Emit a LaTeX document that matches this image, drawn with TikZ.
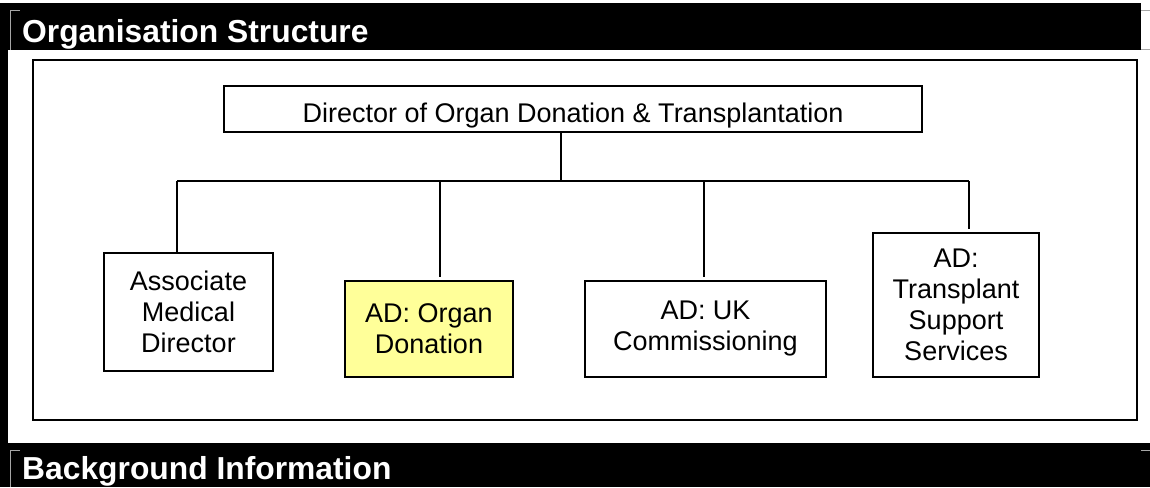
\documentclass[tikz,border=0pt]{standalone}
\usepackage{fontspec}
\setmainfont{Liberation Sans}
\begin{document}
\begin{tikzpicture}[x=1pt,y=-1pt,
  bar/.style={fill=black,draw=none},
  title/.style={text=white,font=\bfseries\fontsize{31.8}{36}\selectfont,anchor=base west,inner sep=0pt},
  box/.style={draw=black,line width=1.6pt,fill=white,inner sep=0pt,align=center,
    font=\fontsize{27}{31}\selectfont},
  link/.style={line width=1.4pt,draw=black},
  frame/.style={draw=black,line width=1.6pt},
  thin/.style={draw=gray!70,line width=0.8pt}]
\useasboundingbox (0,0) rectangle (1150,487);
\fill[white] (0,0) rectangle (1150,487);
% black bars
\fill[bar] (0,3) rectangle (1141,50);
\fill[bar] (0,3) rectangle (8,487);
\fill[bar] (0,443) rectangle (1150,487);
\draw[thin] (20,10) -- (10,10) -- (10,50);
\draw[thin] (1141,10) -- (1150,10);
\draw[thin] (1141,49) -- (1150,49);
\draw[thin] (20,450) -- (10,450) -- (10,487);
\draw[thin] (1141,450) -- (1150,450);
\node[title] (t1) at (22,42) {Organisation Structure};
\node[title] (t2) at (22,479) {Background Information};
% frame
\draw[frame] (33,60) rectangle (1137,420);
% director
\node[box,minimum width=698,minimum height=46,text height=26pt,text depth=0pt] (dir) at (573,109)
  {Director of Organ Donation \& Transplantation};
% children
\node[box,minimum width=169,minimum height=118] (amd) at (188.5,312) {Associate\\Medical\\Director};
\node[box,minimum width=168,minimum height=96,fill={rgb,255:red,255;green,255;blue,153}] (org) at (429,329) {AD: Organ\\Donation};
\node[box,minimum width=241,minimum height=96] (ukc) at (705.5,329) {AD: UK\\Commissioning};
\node[box,minimum width=166,minimum height=144] (tss) at (956,305) {AD:\\Transplant\\Support\\Services};
% bus
\coordinate (bm) at (561,181);
\coordinate (b1) at (177,181);
\coordinate (b2) at (440,181);
\coordinate (b3) at (704,181);
\coordinate (b4) at (969,181);
\draw[link] (dir.south -| bm) -- (bm);
\draw[link] (b1) -- (b4);
\draw[link] (b1) -- (b1 |- amd.north);
\draw[link,shorten >=3pt] (b2) -- (b2 |- org.north);
\draw[link,shorten >=3pt] (b3) -- (b3 |- ukc.north);
\draw[link,shorten >=3pt] (b4) -- (b4 |- tss.north);
\end{tikzpicture}
\end{document}
